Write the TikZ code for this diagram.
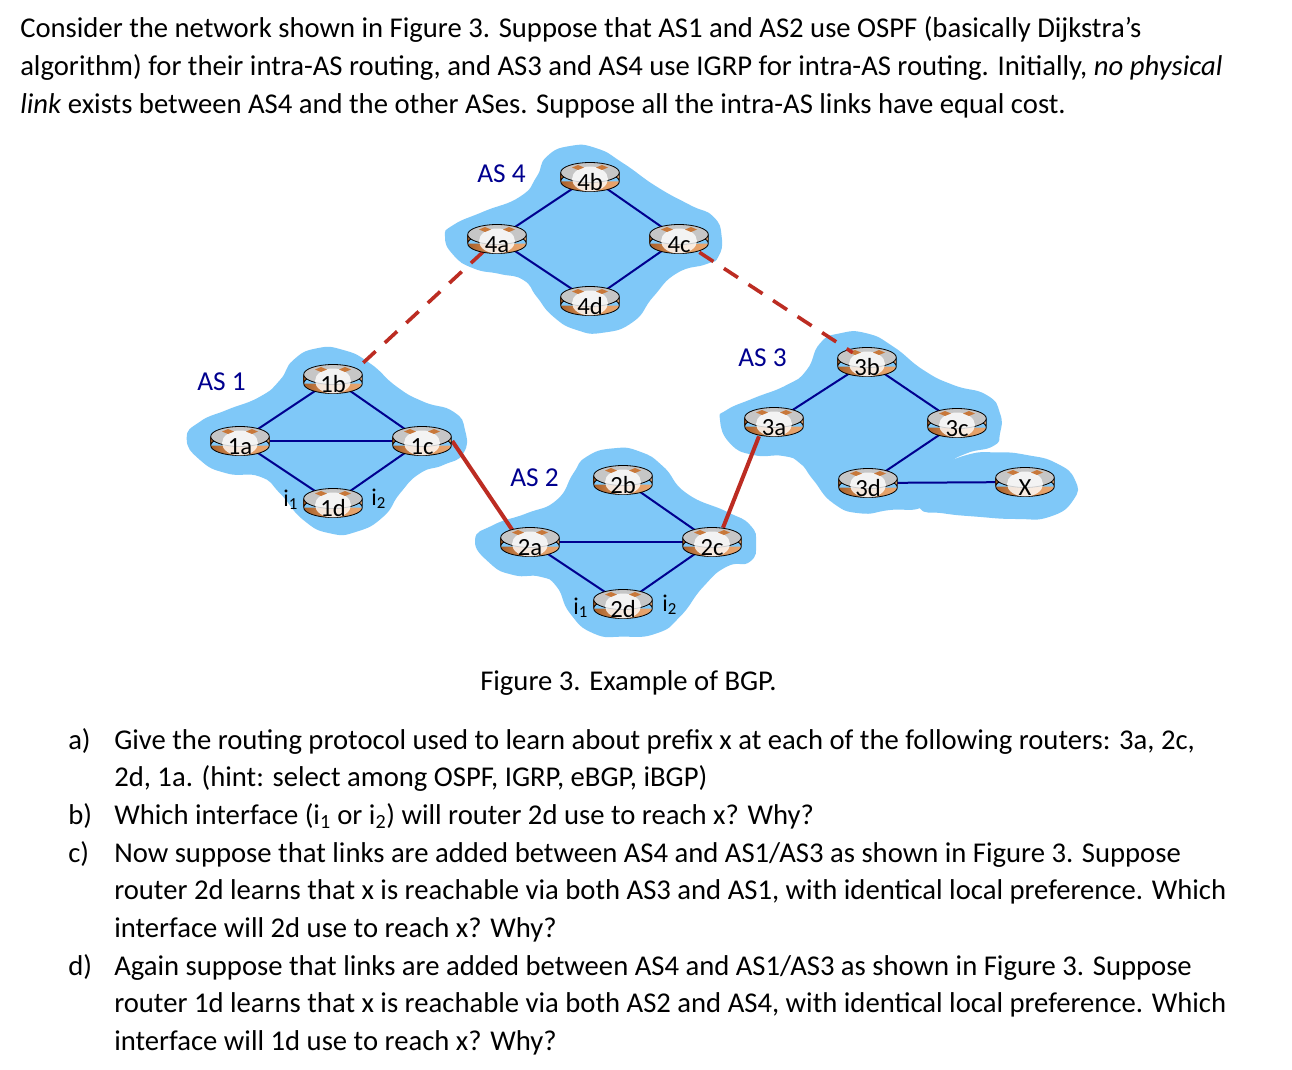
\documentclass[tikz,border=0pt]{standalone}
\usepackage{fontspec}
\setmainfont{Carlito}
\usetikzlibrary{calc}
\pgfdeclarelayer{blobs}
\pgfdeclarelayer{links}
\pgfdeclarelayer{top}
\pgfsetlayers{blobs,links,main,top}
\definecolor{asblue}{HTML}{7FC8F8}
\definecolor{linkblue}{HTML}{00008F}
\definecolor{linkred}{HTML}{BC2C22}
\definecolor{rtrdark}{HTML}{A85F28}
\definecolor{rtrlight}{HTML}{E8A56E}
\definecolor{rtrtop}{HTML}{C6C6C6}
\definecolor{rtrarrow}{HTML}{C8783A}
\tikzset{
  rtr/.style={inner sep=0pt,minimum width=45pt,minimum height=24pt,font=\fontsize{18.5pt}{20pt}\selectfont,
    text height=20pt,text depth=0pt},
  routerart/.pic={
      \shade[left color=rtrdark,right color=rtrlight,middle color=rtrlight!85!rtrdark]
        (-29.3,-4.5) rectangle (29.3,4.5) (0,4.5) ellipse [x radius=29.3,y radius=10];
      \draw[line width=.6pt] (-29.3,-4.5) -- (-29.3,4.5) (29.3,-4.5) -- (29.3,4.5) (0,4.5) ellipse [x radius=29.3,y radius=10];
      \draw[line width=.6pt,fill=rtrtop] (0,-4.5) ellipse [x radius=29.3,y radius=10];
      \fill[white,opacity=.8] (0,2) ellipse [x radius=18,y radius=12.5];
      \fill[rtrarrow] (-18,-9.5) -- (-12,-12) -- (-6,-9.5) -- (-12,-7) -- cycle;
      \fill[rtrarrow] (6,-9.5) -- (12,-12) -- (18,-9.5) -- (12,-7) -- cycle;
  },
  blob/.style={fill=asblue,draw=none},
  intra/.style={draw=linkblue,line width=1.5pt},
  inter/.style={draw=linkred,line width=3pt},
  interdash/.style={draw=linkred,line width=2.7pt,dash pattern=on 12.6pt off 9.4pt},
  aslabel/.style={inner sep=0pt,anchor=base west,text=linkblue,font=\fontsize{20.5pt}{22pt}\selectfont},
  iface/.style={inner sep=0pt,anchor=base west,font=\fontsize{18pt}{20pt}\selectfont},
  body/.style={inner sep=0pt,anchor=base west,font=\fontsize{21.5pt}{24pt}\selectfont},
}
\newcommand{\router}[4]{\pic at (#2,#3) {routerart}; \node[rtr] (#1) at (#2,#3) {#4};}
\begin{document}
\begin{tikzpicture}[x=0.75pt,y=-0.75pt]
\useasboundingbox (0,0) rectangle (1292,1070);
\begin{pgfonlayer}{blobs}
\fill[white] (0,0) rectangle (1292,1070);
\begin{scope}[shift={(170,330)},x=0.25pt,y=-0.25pt]
\fill[blob] plot[smooth cycle,tension=.9] coordinates {(50,325)(90,275)(170,240)(270,200)(330,150)(370,90)(440,55)(520,60)(600,100)(680,170)(760,215)(850,245)(885,300)(880,370)(820,405)(750,430)(690,490)(640,560)(560,605)(480,610)(400,570)(330,490)(270,440)(170,430)(90,390)};
\end{scope}
\begin{scope}[shift={(430,140)},x=0.25pt,y=-0.25pt]
\fill[blob] plot[smooth cycle,tension=.9] coordinates {(45,290)(70,255)(160,215)(270,170)(320,110)(350,50)(420,18)(500,25)(580,70)(680,140)(780,195)(850,230)(875,290)(865,350)(830,372)(740,400)(670,470)(610,545)(520,578)(440,570)(370,530)(320,470)(280,420)(210,402)(130,385)(70,345)};
\end{scope}
\begin{scope}[shift={(480,430)},x=0.25pt,y=-0.25pt]
\fill[blob] plot[smooth cycle,tension=.9] coordinates {(-15,330)(40,285)(140,250)(230,210)(280,130)(320,80)(400,55)(480,65)(550,110)(620,190)(740,245)(810,285)(828,340)(810,395)(740,410)(670,470)(600,560)(530,610)(430,620)(340,610)(270,550)(230,470)(180,440)(100,435)(30,400)};
\end{scope}
\begin{scope}[shift={(710,320)},x=0.25pt,y=-0.25pt]
\fill[blob] plot[smooth cycle,tension=.9] coordinates {(30,300)(50,270)(130,235)(230,195)(290,150)(330,70)(390,40)(470,40)(550,80)(640,150)(730,195)(830,225)(870,280)(870,340)(850,378)(770,400)(715,435)(680,500)(640,560)(540,570)(450,580)(370,550)(310,480)(270,430)(220,408)(130,405)(60,370)};
\fill[blob] plot[smooth cycle,tension=.9] coordinates {(690,445)(770,405)(860,397)(950,405)(1040,430)(1095,480)(1090,540)(1020,590)(920,597)(800,590)(700,580)(630,565)(640,500)};
\end{scope}
\end{pgfonlayer}
% routers
\router{r1a}{240}{441}{1a}
\router{r1b}{333}{379}{1b}
\router{r1c}{422}{441}{1c}
\router{r1d}{333}{503}{1d}
\router{r4a}{497}{239}{4a}
\router{r4b}{590}{177}{4b}
\router{r4c}{679}{239}{4c}
\router{r4d}{590}{301}{4d}
\router{r2a}{530}{542}{2a}
\router{r2b}{623}{480}{2b}
\router{r2c}{712}{542}{2c}
\router{r2d}{623}{604}{2d}
\router{r3a}{774}{422}{3a}
\router{r3b}{867}{362}{3b}
\router{r3c}{957}{423}{3c}
\router{r3d}{868}{483}{3d}
\router{rx}{1025}{482}{X}
% links
\begin{pgfonlayer}{links}
\draw[intra] (r1a.center) -- (r1b.center);
\draw[intra] (r1b.center) -- (r1c.center);
\draw[intra] (r1a.center) -- (r1c.center);
\draw[intra] (r1a.center) -- (r1d.center);
\draw[intra] (r1d.center) -- (r1c.center);
\draw[intra] (r4a.center) -- (r4b.center);
\draw[intra] (r4b.center) -- (r4c.center);
\draw[intra] (r4a.center) -- (r4d.center);
\draw[intra] (r4d.center) -- (r4c.center);
\draw[intra] (r2b.center) -- (r2c.center);
\draw[intra] (r2a.center) -- (r2c.center);
\draw[intra] (r2a.center) -- (r2d.center);
\draw[intra] (r2d.center) -- (r2c.center);
\draw[intra] (r3a.center) -- (r3b.center);
\draw[intra] (r3b.center) -- (r3c.center);
\draw[intra] (r3c.center) -- (r3d.center);
\draw[intra] (r3d.center) -- (rx.center);
\draw[inter] (r1c.east) -- ($(r2a.center)+(-17,-11)$);
\draw[inter] ($(r2c.north)+(11,2)$) -- ($(r3a.south)+(-15,-2)$);
\draw[interdash] (r1b.north east) -- (r4a.center);
\end{pgfonlayer}
\begin{pgfonlayer}{top}
\draw[interdash,shorten <=-4pt,shorten >=-9.4pt] (r4c) -- (r3b);
\end{pgfonlayer}
% labels
\node[aslabel] (as1) at (197,390) {AS 1};
\node[aslabel] (as4) at (477,183) {AS 4};
\node[aslabel] (as2) at (510,486) {AS 2};
\node[aslabel] (as3) at (738,366) {AS 3};
\node[iface] (i11) at (283,506) {i\textsubscript{1}};
\node[iface] (i12) at (371,505) {i\textsubscript{2}};
\node[iface] (i21) at (573,614) {i\textsubscript{1}};
\node[iface] (i22) at (662,611) {i\textsubscript{2}};
% text
\node[body] (t1) at (20,38) {Consider the network shown in Figure 3. Suppose that AS1 and AS2 use OSPF (basically Dijkstra’s};
\node[body] (t2) at (20,76) {algorithm) for their intra-AS routing, and AS3 and AS4 use IGRP for intra-AS routing. Initially, \textit{no physical}};
\node[body] (t3) at (20,113.5) {\textit{link} exists between AS4 and the other ASes. Suppose all the intra-AS links have equal cost.};
\node[body] (cap) at (480,690) {Figure 3. Example of BGP.};
\node[body] (la) at (68,749) {a)};
\node[body] (a1) at (114,749) {Give the routing protocol used to learn about prefix x at each of the following routers: 3a, 2c,};
\node[body] (a2) at (114,786) {2d, 1a. (hint: select among OSPF, IGRP, eBGP, iBGP)};
\node[body] (lb) at (68,824) {b)};
\node[body] (b1) at (114,824) {Which interface (i\textsubscript{1} or i\textsubscript{2}) will router 2d use to reach x? Why?};
\node[body] (lc) at (68,862) {c)};
\node[body] (c1) at (114,862) {Now suppose that links are added between AS4 and AS1/AS3 as shown in Figure 3. Suppose};
\node[body] (c2) at (114,899) {router 2d learns that x is reachable via both AS3 and AS1, with identical local preference. Which};
\node[body] (c3) at (114,937) {interface will 2d use to reach x? Why?};
\node[body] (ld) at (68,975) {d)};
\node[body] (d1) at (114,975) {Again suppose that links are added between AS4 and AS1/AS3 as shown in Figure 3. Suppose};
\node[body] (d2) at (114,1012) {router 1d learns that x is reachable via both AS2 and AS4, with identical local preference. Which};
\node[body] (d3) at (114,1050) {interface will 1d use to reach x? Why?};
\end{tikzpicture}
\end{document}
